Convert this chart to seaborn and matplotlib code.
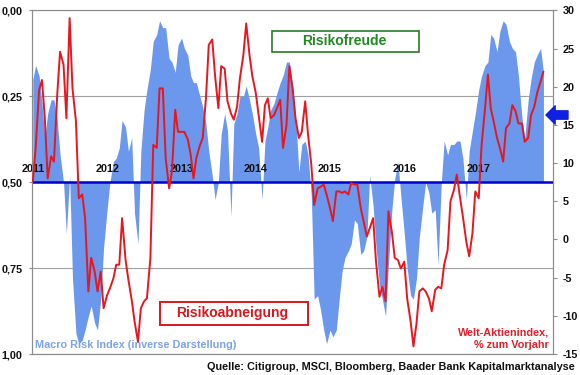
import matplotlib
matplotlib.use("Agg")
import matplotlib.pyplot as plt
import matplotlib.dates as mdates
import pandas as pd
import seaborn as sns
from matplotlib.patches import Rectangle

# ---------------- data (semi-monthly, starting Jan 2011) ----------------
start_date = "2011-01-01"

# Macro Risk Index (inverse display, left axis 0..1, inverted)
macro_risk_inv = [
    # 2011
    0.20, 0.16, 0.19, 0.27, 0.37, 0.30, 0.26, 0.26, 0.32, 0.42, 0.50, 0.65,
    0.48, 0.78, 0.94, 0.97, 0.96, 0.93, 0.89, 0.86, 0.91, 0.93, 0.84, 0.69,
    # 2012
    0.58, 0.50, 0.44, 0.43, 0.40, 0.32, 0.34, 0.41, 0.37, 0.59, 0.68, 0.41,
    0.29, 0.23, 0.17, 0.09, 0.07, 0.03, 0.05, 0.05, 0.14, 0.15, 0.18, 0.10,
    # 2013
    0.08, 0.11, 0.13, 0.19, 0.21, 0.21, 0.25, 0.28, 0.33, 0.41, 0.48, 0.55,
    0.50, 0.36, 0.30, 0.35, 0.60, 0.33, 0.30, 0.25, 0.25, 0.22, 0.26, 0.30,
    # 2014
    0.36, 0.40, 0.55, 0.38, 0.34, 0.29, 0.27, 0.24, 0.21, 0.19, 0.15, 0.15,
    0.22, 0.30, 0.47, 0.39, 0.38, 0.42, 0.54, 0.84, 0.83, 0.87, 0.93, 0.97,
    # 2015
    0.93, 0.95, 0.93, 0.84, 0.76, 0.72, 0.70, 0.68, 0.61, 0.62, 0.71, 0.70,
    0.66, 0.48, 0.57, 0.69, 0.80, 0.84, 0.89, 0.74, 0.58, 0.49, 0.44, 0.54,
    # 2016
    0.65, 0.75, 0.83, 0.84, 0.78, 0.66, 0.57, 0.50, 0.53, 0.59, 0.58, 0.74,
    0.50, 0.38, 0.42, 0.39, 0.39, 0.38, 0.38, 0.43, 0.55, 0.41, 0.35, 0.30,
    # 2017
    0.23, 0.19, 0.16, 0.15, 0.07, 0.08, 0.12, 0.06, 0.03, 0.04, 0.09, 0.11,
    0.12, 0.19, 0.31, 0.37, 0.26, 0.20, 0.15, 0.13, 0.11, 0.18,
]

# Welt-Aktienindex, % zum Vorjahr (right axis)
world_equity_yoy = [
    # 2011
    7.6, 12.0, 19.6, 20.9, 15.9, 8.0, 10.9, 10.2, 19.0, 24.6, 22.9, 15.9,
    29.0, 19.8, 15.5, 5.4, 5.9, 2.8, -6.8, -2.4, -4.2, -6.8, -4.2, -9.0,
    # 2012
    -7.3, -6.4, -5.1, -3.3, -3.3, 2.8, -2.7, -5.3, -7.9, -10.7, -13.4, -9.0,
    -8.1, -7.7, -2.4, 12.4, 12.0, 19.8, 19.8, 10.7, 6.7, 8.9, 17.0, 14.1,
    # 2013
    14.1, 14.1, 13.1, 11.1, 8.0, 10.7, 12.3, 13.3, 18.5, 25.5, 26.2, 21.4,
    17.2, 22.7, 22.4, 18.1, 16.5, 15.7, 17.4, 21.1, 24.2, 28.3, 24.2, 21.4,
    # 2014
    19.2, 16.3, 12.8, 17.6, 18.5, 15.9, 16.3, 17.2, 18.3, 12.0, 15.0, 22.7,
    19.8, 15.9, 13.3, 14.1, 18.1, 13.7, 9.8, 4.5, 6.7, 6.9, 7.2, 5.9,
    # 2015
    4.1, 2.4, 6.3, 6.3, 6.1, 6.3, 5.9, 7.4, 7.2, 7.2, 4.1, 2.4,
    0.4, 1.5, 2.8, -2.9, -7.5, -6.2, -8.1, 3.7, 1.0, -2.4, -2.7, -3.8,
    # 2016
    -2.9, -7.7, -10.7, -14.0, -11.0, -6.8, -6.4, -6.8, -7.7, -9.4, -6.6, -6.2,
    -6.4, -3.3, -1.4, 5.0, 6.5, 8.5, 5.5, 3.0, -0.3, -2.2, 0.8, 6.3,
    # 2017
    5.4, 12.4, 17.2, 21.6, 17.2, 15.5, 13.3, 12.0, 10.2, 14.6, 15.2, 17.6,
    16.8, 15.2, 15.2, 12.8, 13.3, 16.3, 17.4, 19.2, 20.7, 22.0,
]

neutral_level = 0.5
left_ticks = [0.0, 0.25, 0.5, 0.75, 1.0]
left_labels = ["0,00", "0,25", "0,50", "0,75", "1,00"]
right_ticks = [30, 25, 20, 15, 10, 5, 0, -5, -10, -15]
right_labels = ["30", "25", "20", "15", "10", "5", "0", "-5", "-10", "-15"]
year_labels = ["2011", "2012", "2013", "2014", "2015", "2016", "2017"]

dates = pd.date_range(start_date, periods=len(macro_risk_inv), freq="SMS")
df = pd.DataFrame({"date": dates, "macro": macro_risk_inv, "welt": world_equity_yoy})

# ---------------- style ----------------
sns.set_style("white")
plt.rcParams["font.family"] = ["Liberation Sans", "DejaVu Sans"]
plt.rcParams["font.weight"] = "bold"

BLUE_FILL = "#6b98ec"
RED = "#e8161e"
GRID = "#a0a0a0"
SPINE = "#8c8c8c"

fig = plt.figure(figsize=(5.8, 3.75), dpi=100)
ax = fig.add_axes([32 / 580, 21 / 375, 521 / 580, 343.5 / 375])

ax.fill_between(df["date"], neutral_level, df["macro"], color=BLUE_FILL, lw=0, zorder=2)
ax.axhline(neutral_level, color="#0000cc", lw=1.8, zorder=4)
ax.set_ylim(1, 0)
ax.set_xlim(pd.Timestamp("2010-12-28"), pd.Timestamp("2018-01-01"))
ax.set_yticks(left_ticks)
ax.set_yticklabels(left_labels)
ax.yaxis.grid(True, color=GRID, lw=0.8)
ax.xaxis.grid(False)
ax.set_axisbelow(True)
ax.tick_params(axis="y", length=2, color=SPINE, labelsize=7.8, pad=5, labelcolor="#111111")
ax.tick_params(axis="x", bottom=False, labelbottom=False)
ax.set_xlabel("")
ax.set_ylabel("")
for s in ax.spines.values():
    s.set_color(SPINE)
    s.set_linewidth(0.8)

for y in year_labels:
    ax.text(mdates.date2num(pd.Timestamp(f"{y}-01-01")), 0.462, y, ha="center", va="center",
            fontsize=7.8, fontweight="bold", color="#111111", zorder=6)

ax.text(0.006, 0.025, "Macro Risk Index (inverse Darstellung)", transform=ax.transAxes,
        ha="left", va="center", fontsize=7.8, fontweight="bold", color="#7ea3e8", zorder=6)

# ---------------- right axis ----------------
ax2 = ax.twinx()
sns.lineplot(data=df, x="date", y="welt", ax=ax2, color=RED, lw=1.4, zorder=5)
ax2.set_ylim(-15, 30)
ax2.set_yticks(right_ticks)
ax2.set_yticklabels(right_labels)
ax2.set_xlim(ax.get_xlim())
ax2.set_xlabel("")
ax2.set_ylabel("")
ax2.tick_params(axis="y", length=3, color=SPINE, labelsize=7.8, pad=4, labelcolor="#111111")
ax2.tick_params(axis="x", bottom=False, labelbottom=False)
ax2.grid(False)
for s in ax2.spines.values():
    s.set_color(SPINE)
    s.set_linewidth(0.8)

ax2.text(0.992, 0.0445, "Welt-Aktienindex,\n% zum Vorjahr", transform=ax2.transAxes,
         ha="right", va="center", multialignment="right", fontsize=7.8,
         fontweight="bold", color="#e0202a", zorder=7)

# boxes
ax2.add_patch(Rectangle((0.4607, 0.879), 0.282, 0.061, transform=ax2.transAxes,
                        facecolor="white", edgecolor="#2a7a2a", lw=1.2, zorder=8))
ax2.text(0.600, 0.911, "Risikofreude", transform=ax2.transAxes, ha="center", va="center",
         fontsize=10, fontweight="bold", color="#1f8a1f", zorder=9)

ax2.add_patch(Rectangle((0.2457, 0.0844), 0.284, 0.068, transform=ax2.transAxes,
                        facecolor="white", edgecolor="#d9161e", lw=1.4, zorder=8))
ax2.text(0.384, 0.119, "Risikoabneigung", transform=ax2.transAxes, ha="center", va="center",
         fontsize=10, fontweight="bold", color="#d9161e", zorder=9)

# arrow on the right axis
ax2.annotate("", xy=(546, 260), xycoords="figure pixels", xytext=(568, 260),
             textcoords="figure pixels", annotation_clip=False,
             arrowprops=dict(arrowstyle="simple,head_length=0.55,head_width=1.1,tail_width=0.5",
                             color="#1020e0", mutation_scale=12, shrinkA=0, shrinkB=0))

fig.text(0.991, 0.021, "Quelle: Citigroup, MSCI, Bloomberg, Baader Bank Kapitalmarktanalyse",
         ha="right", va="center", fontsize=7.8, fontweight="bold", color="#111111")

fig.savefig("out.png", dpi=100)
